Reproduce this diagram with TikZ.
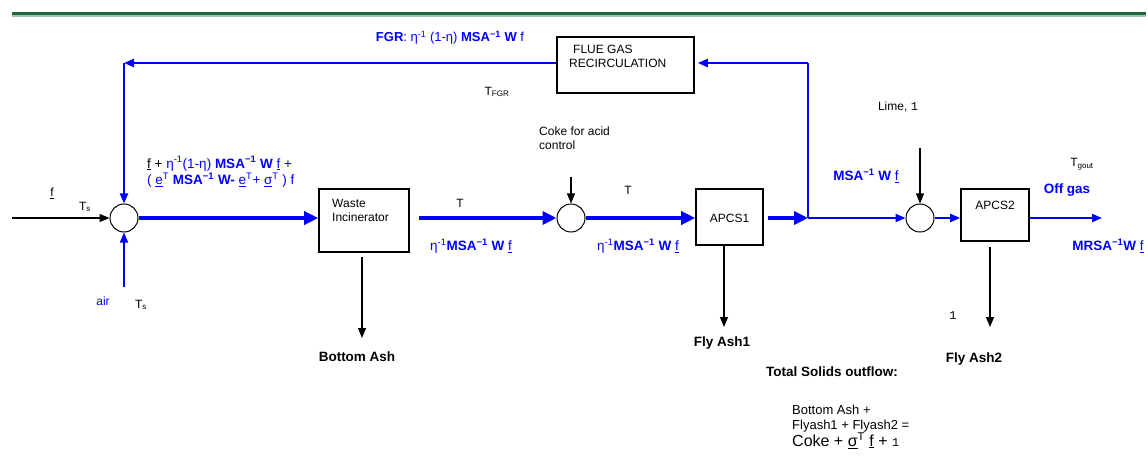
\documentclass[tikz,border=0pt]{standalone}
\usepackage{fontspec}
\setmainfont{Liberation Sans}
\setmonofont{Liberation Mono}
\usetikzlibrary{arrows.meta,calc}
\definecolor{fblue}{RGB}{0,0,255}
\definecolor{hgreen}{RGB}{31,102,61}
\definecolor{hgreenl}{RGB}{160,196,170}
\begin{document}
\begin{tikzpicture}[x=1pt,y=-1pt,
  txt/.style={font=\fontsize{12}{14}\selectfont, inner sep=0pt},
  btxt/.style={font=\fontsize{13.5}{16}\selectfont\bfseries, inner sep=0pt},
  bluetxt/.style={btxt, text=fblue},
  box/.style={draw=black, line width=1.6pt, inner sep=0pt},
  sumnode/.style={circle, draw=black, line width=1pt, minimum size=28pt, inner sep=0pt},
  fthick/.style={draw=fblue, line width=4.5pt, -{Triangle[length=14pt,width=13pt]}},
  fthin/.style={draw=fblue, line width=2.2pt, -{Triangle[length=10pt,width=8pt]}},
  fline/.style={draw=fblue, line width=2.2pt},
  blk/.style={draw=black, line width=1.2pt, -{Triangle[length=10pt,width=8pt]}}
]
\path[use as bounding box] (0,0) rectangle (1148,473);
% header rule
\draw[hgreenl, line width=1.5pt] (12,16) -- (1146,16);
\draw[hgreen, line width=3.2pt] (12,13.3) -- (1146,13.3);

% blocks
\node[sumnode] (c1) at (124,218) {};
\node[sumnode] (c2) at (571,218) {};
\node[sumnode] (c3) at (920,218) {};
\node[box, minimum width=90pt, minimum height=63pt] (waste) at (364,220.5) {};
\node[box, minimum width=67pt, minimum height=56pt] (apcs1) at (729.5,217) {};
\node[box, minimum width=68pt, minimum height=52pt] (apcs2) at (995,215) {};
\node[box, minimum width=137pt, minimum height=56pt] (fgr) at (625.5,65) {};

% block texts
\node[txt, align=left, anchor=north west] (wastetxt) at (332,199) {Waste\\Incinerator};
\node[txt] (apcs1txt) at (729.5,218) {APCS1};
\node[txt] (apcs2txt) at (995,205) {APCS2};
\node[txt, align=left, anchor=north west] (fgrtxt) at (569,45) {\hspace*{4pt}FLUE GAS\\RECIRCULATION};

% coordinates
\coordinate (fin) at (12,218);
\coordinate (airin) at (124,287);
\coordinate (corner) at (124,63);
\coordinate (junc) at (808,218);
\coordinate (jtop) at (808,63);
\coordinate (bash) at (362,338);
\coordinate (wbot) at (362,257);
\coordinate (a1bot) at (724,246);
\coordinate (fash1) at (724,327);
\coordinate (a2bot) at (990,247);
\coordinate (fash2) at (990,327);
\coordinate (coke) at (571,177);
\coordinate (lime) at (920,148);
\coordinate (offgas) at (1102,218);

% connectors
\draw[blk] (fin) -- (c1.west);
\draw[fthin, line width=1.6pt] (airin) -- (c1.south);
\draw[fthick] (c1.east) -- (c1.east -| waste.west);
\draw[blk] (wbot) -- (bash);
\draw[fthick] (c2.west -| {$(waste.east)+(9,0)$}) -- (c2.west);
\draw[blk] (coke) -- (c2.north);
\draw[fthick] (c2.east) -- (c2.east -| apcs1.west);
\draw[blk] (a1bot) -- (fash1);
\draw[fthick] (junc -| {$(apcs1.east)+(4,0)$}) -- (junc);
\draw[fthin] (junc) -- (c3.west);
\draw[fline] (junc) -- (jtop);
\draw[fthin, shorten >=3pt] (jtop) -- (jtop -| fgr.east);
\draw[fthin] (corner -| fgr.west) -- (corner);
\draw[fthin] (corner) -- (c1.north);
\draw[blk] (lime) -- (c3.north);
\draw[fthin] (c3.east) -- (c3.east -| apcs2.west);
\draw[fthin] (c3.east -| apcs2.east) -- (offgas);
\draw[blk] (a2bot) -- (fash2);

% labels
\node[txt] (lf) at (52,193) {\underline{f}};
\node[txt] (lts1) at (85,207) {T\textsubscript{s}};
\node[txt, text=fblue] (lair) at (103,301) {air};
\node[txt] (lts2) at (141,305) {T\textsubscript{s}};
\node[txt, text=fblue, anchor=west, align=left, font=\fontsize{13.5}{16.5}\selectfont] (lform) at (147,172)
  {{\color{black}\underline{f} +} η\textsuperscript{-1}(1-η) \textbf{MSA\textsuperscript{−1} W} \underline{f} +\\
   ( \underline{e}\textsuperscript{T} \textbf{MSA\textsuperscript{−1} W-} \underline{e}\textsuperscript{T}+ \underline{σ}\textsuperscript{T} ) f};
\node[txt] (lt1) at (460,203) {T};
\node[txt] (lt2) at (628,190) {T};
\node[bluetxt] (leta1) at (471,246) {\mdseries η\textsuperscript{-1}\bfseries MSA\textsuperscript{−1} W \mdseries\underline{f}};
\node[bluetxt] (leta2) at (638,246) {\mdseries η\textsuperscript{-1}\bfseries MSA\textsuperscript{−1} W \mdseries\underline{f}};
\node[txt, align=left, anchor=north west, font=\fontsize{12}{13.5}\selectfont] (lcoke) at (539,127) {Coke for acid\\control};
\node[txt, text=fblue, font=\fontsize{13}{15}\selectfont] (lfgr) at (450,38) {\textbf{FGR}: η\textsuperscript{-1} (1-η) \textbf{MSA\textsuperscript{−1} W} f};
\node[txt] (ltfgr) at (497,92) {T\textsubscript{FGR}};
\node[bluetxt] (lmsa) at (866,176) {MSA\textsuperscript{−1} W \mdseries\underline{f}};
\node[txt] (llime) at (898,107) {Lime, \texttt{1}};
\node[txt] (ltgout) at (1082,164) {T\textsubscript{gout}};
\node[bluetxt] (loff) at (1067,190) {Off gas};
\node[bluetxt] (lmrsa) at (1108,246) {MRSA\textsuperscript{−1}W \mdseries\underline{f}};
\node[txt] (lone) at (953,316) {\texttt{1}};
\node[btxt] (lbash) at (357,357) {Bottom Ash};
\node[btxt] (lfa1) at (722,343) {Fly Ash1};
\node[btxt] (lfa2) at (974,359) {Fly Ash2};
\node[btxt] (ltotal) at (832,372) {Total Solids outflow:};
\node[txt, align=left, anchor=north west, font=\fontsize{13}{15}\selectfont] (lsum) at (792,405)
  {Bottom Ash +\\Flyash1 + Flyash2 =\\[-1pt]{\fontsize{16}{18}\selectfont Coke + \underline{σ}\textsuperscript{T} \underline{f} + \texttt{\fontsize{12}{13}\selectfont 1}}};
\end{tikzpicture}
\end{document}
